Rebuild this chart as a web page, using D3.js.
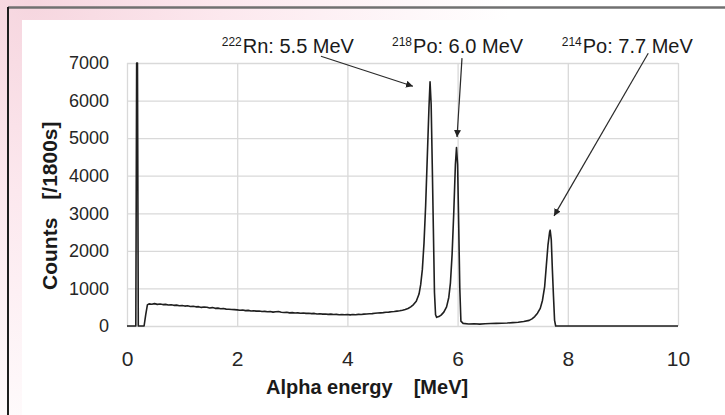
<!DOCTYPE html>
<html>
<head>
<meta charset="utf-8">
<script src="https://cdnjs.cloudflare.com/ajax/libs/d3/7.8.5/d3.min.js"></script>
<style>
  body { margin: 0; background: #fff; }
  svg { display: block; font-family: "Liberation Sans", Arial, sans-serif; }
</style>
</head>
<body>
<div class="spectrum"></div>
<script>
var xTicks = [0, 2, 4, 6, 8, 10];
var yTicks = [0, 1000, 2000, 3000, 4000, 5000, 6000, 7000];

var energy = [
  0, 0.16, 0.175, 0.19, 0.205, 0.31, 0.34, 0.37,
  0.40, 0.45, 0.50, 0.55, 0.60, 0.65, 0.70, 0.75, 0.80, 0.85, 0.90, 0.95,
  1.00, 1.05, 1.10, 1.15, 1.20, 1.25, 1.30, 1.35, 1.40, 1.45, 1.50, 1.55,
  1.60, 1.65, 1.70, 1.75, 1.80, 1.85, 1.90, 1.95, 2.00, 2.05, 2.10, 2.15,
  2.20, 2.25, 2.30, 2.35, 2.40, 2.45, 2.50, 2.55, 2.60, 2.65, 2.70, 2.75,
  2.80, 2.85, 2.90, 2.95, 3.00, 3.05, 3.10, 3.15, 3.20, 3.25, 3.30, 3.35,
  3.40, 3.45, 3.50, 3.55, 3.60, 3.65, 3.70, 3.75, 3.80, 3.85, 3.90, 3.95,
  4.00, 4.05, 4.10, 4.15, 4.20, 4.25, 4.30, 4.35, 4.40, 4.45, 4.50, 4.55,
  4.60, 4.65, 4.70, 4.75, 4.80, 4.85, 4.90, 4.95, 5.00, 5.05, 5.10, 5.15,
  5.20, 5.25, 5.30, 5.33, 5.36, 5.39, 5.42, 5.45, 5.48, 5.50, 5.52, 5.54,
  5.56, 5.58, 5.60, 5.62, 5.66, 5.70, 5.75, 5.80, 5.84, 5.87, 5.90, 5.93,
  5.96, 5.98, 6.00, 6.02, 6.04, 6.06, 6.10, 6.20, 6.30, 6.40, 6.50, 6.60,
  6.70, 6.80, 6.90, 7.00, 7.10, 7.20, 7.30, 7.35, 7.40, 7.45, 7.50, 7.54,
  7.58, 7.61, 7.64, 7.67, 7.68, 7.70, 7.72, 7.74, 7.76, 7.78, 10.00
];

var counts = [
  0, 0, 7000, 7000, 0, 0, 300, 560,
  590, 580, 595, 575, 585, 570, 575, 560, 565, 550, 555, 540,
  545, 530, 540, 520, 525, 510, 515, 495, 505, 500, 480, 490,
  470, 475, 460, 465, 450, 445, 440, 435, 430, 420, 425, 410,
  415, 400, 405, 395, 400, 385, 390, 380, 385, 370, 380, 385,
  365, 360, 365, 350, 355, 345, 350, 340, 345, 335, 340, 330,
  335, 320, 325, 315, 320, 310, 315, 305, 310, 300, 305, 300,
  305, 295, 305, 300, 310, 305, 315, 320, 325, 330, 340, 345,
  350, 355, 365, 370, 380, 385, 395, 405, 420, 440, 465, 510,
  570, 660, 850, 1100, 1500, 2200, 3200, 4500, 5800, 6500, 5900, 4300,
  2600, 900, 300, 230, 250, 290, 370, 510, 760, 1150, 1900, 3000,
  4300, 4750, 4300, 2700, 1000, 130, 70, 55, 60, 50, 60, 65,
  70, 75, 80, 90, 100, 120, 150, 190, 250, 340, 470, 680,
  1050, 1600, 2150, 2500, 2550, 2300, 1500, 800, 150, 0, 0
];

// peak labels: mass number + text, label start energy, arrow tail and tip (energy, counts)
var peakMass = ["222", "218", "214"];
var peakText = ["Rn: 5.5 MeV", "Po: 6.0 MeV", "Po: 7.7 MeV"];
var labelEnergy = [1.72, 4.81, 7.89];
var tailEnergy = [3.52, 6.08, 9.46];
var tailCounts = [7180, 7130, 7260];
var tipEnergy = [5.19, 5.99, 7.75];
var tipCounts = [6380, 5030, 2930];

var W = 725, H = 415;
var svg = d3.select(".spectrum").append("svg")
  .attr("width", W)
  .attr("height", H);

var defs = svg.append("defs");
var grad = defs.append("radialGradient")
  .attr("id", "wash")
  .attr("gradientUnits", "userSpaceOnUse")
  .attr("cx", 30).attr("cy", 0).attr("r", 480);
grad.append("stop").attr("offset", 0).attr("stop-color", "#f6d6df");
grad.append("stop").attr("offset", 0.4).attr("stop-color", "#fce8ee");
grad.append("stop").attr("offset", 1).attr("stop-color", "#ffffff");

defs.append("marker")
  .attr("id", "head")
  .attr("viewBox", "0 0 10 10")
  .attr("refX", 10).attr("refY", 5)
  .attr("markerWidth", 7).attr("markerHeight", 7)
  .attr("markerUnits", "userSpaceOnUse")
  .attr("orient", "auto")
  .append("path")
  .attr("d", "M0,0L10,5L0,10Z")
  .attr("fill", "#222");

defs.append("clipPath").attr("id", "plotclip")
  .append("rect")
  .attr("x", 120).attr("y", 62).attr("width", 570).attr("height", 270);

svg.append("rect").attr("width", W).attr("height", H).attr("fill", "url(#wash)");
svg.append("rect").attr("x", 22).attr("y", 20).attr("width", W - 22).attr("height", H - 20).attr("fill", "#fff");
svg.append("line").attr("x1", 8).attr("x2", W).attr("y1", 7.5).attr("y2", 7.5)
  .attr("stroke", "#707070").attr("stroke-width", 2.5);
svg.append("line").attr("x1", 8).attr("x2", 8).attr("y1", 7).attr("y2", H)
  .attr("stroke", "#1e1e1e").attr("stroke-width", 2);

var x = d3.scaleLinear().domain([0, 10]).range([127, 678]);
var y = d3.scaleLinear().domain([0, 7000]).range([326, 63]);

var gy = svg.append("g")
  .attr("transform", "translate(127,0)")
  .call(d3.axisLeft(y).tickValues(yTicks).tickFormat(d3.format("d"))
    .tickSize(-(678 - 127)).tickPadding(18));
gy.select(".domain").remove();
gy.selectAll("line").attr("stroke", "#d9d9d9").attr("stroke-width", 1.3);
gy.selectAll("text").attr("font-size", 18).attr("fill", "#262626")
  .attr("font-family", "Liberation Sans, Arial, sans-serif");

var gx = svg.append("g")
  .attr("transform", "translate(0,326)")
  .call(d3.axisBottom(x).tickValues(xTicks).tickFormat(d3.format("d"))
    .tickSize(-(326 - 63)).tickPadding(25));
gx.select(".domain").remove();
gx.selectAll("line").attr("stroke", "#d9d9d9").attr("stroke-width", 1.3);
gx.selectAll("text").attr("font-size", 21).attr("fill", "#262626")
  .attr("font-family", "Liberation Sans, Arial, sans-serif");

var pts = energy.map(function(e, i) { return [e, counts[i]]; });
var line = d3.line()
  .x(function(d) { return x(d[0]); })
  .y(function(d) { return y(d[1]); });

svg.append("path")
  .datum(pts)
  .attr("clip-path", "url(#plotclip)")
  .attr("d", line)
  .attr("fill", "none")
  .attr("stroke", "#1f1f1f")
  .attr("stroke-width", 1.6)
  .attr("stroke-linejoin", "round");

// axis titles
var xt = svg.append("text")
  .attr("x", 266).attr("y", 394)
  .attr("font-size", 20).attr("font-weight", "bold").attr("fill", "#1a1a1a");
xt.append("tspan").text("Alpha energy");
xt.append("tspan").attr("dx", 21).text("[MeV]");

var yt = svg.append("text")
  .attr("transform", "translate(57,290) rotate(-90)")
  .attr("font-size", 21).attr("font-weight", "bold").attr("fill", "#1a1a1a");
yt.append("tspan").text("Counts");
yt.append("tspan").attr("dx", 18).text("[/1800s]");

// peak annotations
peakText.forEach(function(t, i) {
  var lab = svg.append("text")
    .attr("x", x(labelEnergy[i]))
    .attr("y", 53)
    .attr("font-size", 20)
    .attr("fill", "#1a1a1a");
  lab.append("tspan").attr("font-size", 12).attr("dy", -7).text(peakMass[i]);
  lab.append("tspan").attr("dy", 7).attr("dx", 1).text(t);

  svg.append("line")
    .attr("x1", x(tailEnergy[i])).attr("y1", y(tailCounts[i]))
    .attr("x2", x(tipEnergy[i])).attr("y2", y(tipCounts[i]))
    .attr("stroke", "#2a2a2a")
    .attr("stroke-width", 1.2)
    .attr("marker-end", "url(#head)");
});
</script>
</body>
</html>
